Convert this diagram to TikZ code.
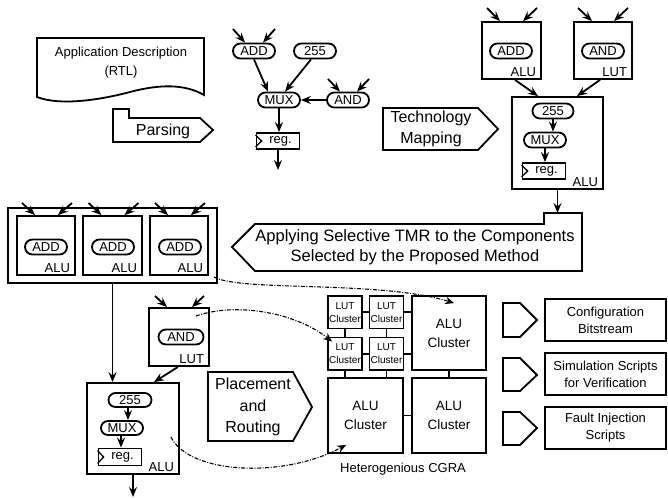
\documentclass[tikz,border=0pt]{standalone}
\usepackage{fontspec}
\setmainfont{Liberation Sans}
\usetikzlibrary{arrows.meta,shapes.misc}

\begin{document}
\begin{tikzpicture}[x=1pt,y=1pt,yscale=-1,xscale=1,
  line width=1.8pt,
  >={Stealth[length=10pt,width=8pt,inset=3.5pt]},
  pill/.style={draw,rounded rectangle,minimum width=42pt,minimum height=15pt,inner sep=0pt,font=\fontsize{13}{15}\selectfont},
  blk/.style={draw,rectangle,inner sep=0pt},
  regbox/.style={draw,rectangle,inner sep=0pt,minimum width=43pt,minimum height=16pt,font=\fontsize{13}{15}\selectfont},
  unitlbl/.style={anchor=base east,inner sep=0pt,font=\fontsize{13}{15}\selectfont},
  bigtxt/.style={align=center,inner sep=0pt,font=\fontsize{16}{21}\selectfont},
  midtxt/.style={align=center,inner sep=0pt,font=\fontsize{13}{17}\selectfont},
  lutcl/.style={blk,minimum width=34pt,minimum height=32.5pt,align=center,font=\fontsize{10}{13}\selectfont},
  alucl/.style={blk,minimum width=74pt,minimum height=74pt,align=center,font=\fontsize{13.5}{19}\selectfont},
  outbox/.style={blk,minimum width=121pt,minimum height=42pt,align=center,font=\fontsize{13}{17}\selectfont},
  clk/.style={line width=1.3pt},
  mapping/.style={-{Stealth[length=9pt,width=7.5pt,inset=3pt]},dash pattern={on 4pt off 1.5pt on 1pt off 1.5pt},line width=1.1pt}
]
\useasboundingbox (0,0) rectangle (668,498);
% y grows downwards here, so a positive yshift moves down as well

%Shape: Document
\draw (37,38) -- (204,38) -- (204,95) .. controls (185,84) and (160,84) .. (130,92) .. controls (100,100) and (60,106) .. (37,97) -- cycle;
% Text Node
\node[midtxt,font=\fontsize{13}{19}\selectfont] (appdesc) at (121,63) {Application Description\\(RTL)};

%Shape: Parsing step
\draw (113,109) -- (129,109) -- (129,118) -- (200,118) -- (213,130) -- (200,142) -- (113,142) -- cycle;
\node[bigtxt] (parsing) at (163,131) {Parsing};

%Parsed graph
\node[pill] (add0) at (254,51) {ADD};
\node[pill] (c2550) at (315,51) {255};
\node[pill] (mux0) at (279,100) {MUX};
\node[pill] (and0) at (348,100) {AND};
\node[regbox] (reg0) at (278,141) {\hspace*{5pt}reg.};
\draw[clk] ([yshift=3pt]reg0.north west) -- ([xshift=6pt]reg0.west) -- ([yshift=-3pt]reg0.south west);
\coordinate (add0a) at (233,29);
\coordinate (add0b) at (275,29);
\coordinate (and0a) at (328,79);
\coordinate (and0b) at (369,79);
\coordinate (out0) at (278,170);
\draw[->] (add0a) -- ([xshift=-9pt]add0.north);
\draw[->] (add0b) -- ([xshift=9pt]add0.north);
\draw[->] (and0a) -- ([xshift=-8pt]and0.north);
\draw[->] (and0b) -- ([xshift=9pt]and0.north);
\draw[->] (add0.south) -- ([xshift=-11pt]mux0.north);
\draw[->] ([xshift=-4pt]c2550.south) -- ([xshift=6pt]mux0.north);
\draw[->] (and0.west) -- (mux0.east);
\draw[->] (mux0.south) -- (mux0.south |- reg0.north);
\draw[->] (reg0.south) -- (out0);

%Shape: Technology mapping step
\draw (383,108) -- (478,108) -- (498,129) -- (478,150) -- (383,150) -- cycle;
\node[bigtxt] (techmap) at (431,129) {Technology\\Mapping};

%Mapped units
\node[blk,minimum width=59pt,minimum height=57pt] (alu1) at (511.5,50.5) {};
\node[pill] (add1) at (511,51) {ADD};
\node[unitlbl] (alu1lbl) at ([xshift=-5pt,yshift=-3pt]alu1.south east) {ALU};
\node[blk,minimum width=58pt,minimum height=57pt] (lut1) at (603,50.5) {};
\node[pill] (and1) at (603,51) {AND};
\node[unitlbl] (lut1lbl) at ([xshift=-5pt,yshift=-3pt]lut1.south east) {LUT};
\coordinate (alu1a) at (487,8);
\coordinate (alu1b) at (537,8);
\coordinate (lut1a) at (578,8);
\coordinate (lut1b) at (628,8);
\draw[->] (alu1a) -- ([xshift=-11.5pt]alu1.north);
\draw[->] (alu1b) -- ([xshift=11.5pt]alu1.north);
\draw[->] (lut1a) -- ([xshift=-11pt]lut1.north);
\draw[->] (lut1b) -- ([xshift=11pt]lut1.north);
\node[blk,minimum width=91pt,minimum height=92pt] (alu2) at (557.5,143) {};
\draw[->] ([xshift=3.5pt]alu1.south) -- ([xshift=-19.5pt]alu2.north);
\draw[->] ([xshift=-3pt]lut1.south) -- ([xshift=19.5pt]alu2.north);
\node[pill,minimum width=41pt] (c2551) at (553,111) {255};
\node[pill] (mux1) at (545,140) {MUX};
\node[regbox] (reg1) at (544,171) {\hspace*{5pt}reg.};
\draw[clk] ([yshift=3pt]reg1.north west) -- ([xshift=6pt]reg1.west) -- ([yshift=-3pt]reg1.south west);
\node[unitlbl] (alu2lbl) at ([xshift=-5pt,yshift=-3pt]alu2.south east) {ALU};
\draw[->] (c2551.south) -- (c2551.south |- mux1.north);
\draw[->] (mux1.south) -- (mux1.south |- reg1.north);
\coordinate (tmrin) at (558,213);
\draw[->] (alu2.south) -- (alu2.south |- tmrin);

%Shape: Selective TMR step
\draw (232,247) -- (255,224) -- (544,224) -- (544,213) -- (582,213) -- (582,271) -- (255,271) -- cycle;
\node[bigtxt,font=\fontsize{16.5}{20}\selectfont] (tmr) at (415,247) {Applying Selective TMR to the Components\\Selected by the Proposed Method};

%Triplicated adder
\node[blk,minimum width=209pt,minimum height=75pt] (tmrgrp) at (112.5,245.5) {};
\node[blk,minimum width=58pt,minimum height=59pt] (alua) at (46,245.5) {};
\node[pill] (adda) at (46,247) {ADD};
\node[unitlbl] (alualbl) at ([xshift=-5pt,yshift=-3pt]alua.south east) {ALU};
\node[blk,minimum width=59pt,minimum height=59pt] (alub) at (112.5,245.5) {};
\node[pill] (addb) at (113,247) {ADD};
\node[unitlbl] (alublbl) at ([xshift=-5pt,yshift=-3pt]alub.south east) {ALU};
\node[blk,minimum width=58pt,minimum height=59pt] (aluc) at (179,245.5) {};
\node[pill] (addc) at (180,247) {ADD};
\node[unitlbl] (aluclbl) at ([xshift=-5pt,yshift=-3pt]aluc.south east) {ALU};
\coordinate (aluaa) at (22,203);
\coordinate (aluab) at (72,203);
\coordinate (aluba) at (88.5,203);
\coordinate (alubb) at (138.5,203);
\coordinate (aluca) at (155,203);
\coordinate (alucb) at (205,203);
\draw[->] (aluaa) -- ([xshift=-11pt]alua.north);
\draw[->] (aluab) -- ([xshift=12pt]alua.north);
\draw[->] (aluba) -- ([xshift=-11pt]alub.north);
\draw[->] (alubb) -- ([xshift=12pt]alub.north);
\draw[->] (aluca) -- ([xshift=-11pt]aluc.north);
\draw[->] (alucb) -- ([xshift=12pt]aluc.north);

%Remaining units
\node[blk,minimum width=60pt,minimum height=58pt] (lut2) at (179,337) {};
\node[pill,minimum width=45pt] (and2) at (181,337) {AND};
\node[unitlbl] (lut2lbl) at ([xshift=-5pt,yshift=-3pt]lut2.south east) {LUT};
\coordinate (lut2a) at (155,296);
\coordinate (lut2b) at (204,296);
\draw[->] (lut2a) -- ([xshift=-12pt]lut2.north);
\draw[->] (lut2b) -- ([xshift=13pt]lut2.north);
\node[blk,minimum width=92pt,minimum height=91pt] (alu3) at (133,428.5) {};
\node[pill,minimum width=43pt,minimum height=14pt] (c2552) at (130,400) {255};
\node[pill,minimum height=14pt] (mux2) at (122,428) {MUX};
\node[regbox,minimum height=17pt] (reg2) at (120,457) {\hspace*{5pt}reg.};
\draw[clk] ([yshift=3pt]reg2.north west) -- ([xshift=6pt]reg2.west) -- ([yshift=-3pt]reg2.south west);
\node[unitlbl] (alu3lbl) at ([xshift=-5pt,yshift=-3pt]alu3.south east) {ALU};
\draw[->] ([xshift=-2pt]c2552.south) -- ([xshift=6pt]mux2.north);
\draw[->] ([xshift=-1pt]mux2.south) -- ([xshift=1pt]reg2.north);
\coordinate (out3) at (133,497);
\draw[->] (alu3.south) -- (out3);
\draw[->] (tmrgrp.south) -- (tmrgrp.south |- alu3.north);
\draw[->] ([xshift=-1pt]lut2.south) -- ([xshift=21pt]alu3.north);

%Shape: Placement and routing step
\draw (208,372) -- (293,372) -- (312,407) -- (293,441) -- (208,441) -- cycle;
\node[bigtxt,font=\fontsize{16}{21.5}\selectfont] (placeroute) at (253,407) {Placement\\and\\Routing};

%CGRA
\node[lutcl] (lc1) at (345,312.25) {LUT\\Cluster};
\node[lutcl] (lc2) at (386.5,312.25) {LUT\\Cluster};
\node[lutcl] (lc3) at (345,353.75) {LUT\\Cluster};
\node[lutcl] (lc4) at (386.5,353.75) {LUT\\Cluster};
\node[alucl] (clTR) at (449,333) {ALU\\Cluster};
\node[alucl,minimum width=75pt,minimum height=75pt] (clBL) at (365.5,415.5) {ALU\\Cluster};
\node[alucl,minimum height=75pt] (clBR) at (449,415.5) {ALU\\Cluster};
\draw (lc1.east) -- (lc2.west);
\draw (lc2.east) -- (lc2.east -| clTR.west);
\draw (lc3.east) -- (lc4.west);
\draw (lc4.east) -- (lc4.east -| clTR.west);
\draw (lc1.south) -- (lc3.north);
\draw (lc2.south) -- (lc4.north);
\draw (lc3.south) -- (lc3.south |- clBL.north);
\draw (lc4.south) -- (lc4.south |- clBL.north);
\draw (clTR.south) -- (clBR.north);
\draw (clBL.east) -- (clBL.east -| clBR.west);
\node[midtxt] (cgra) at (403,469) {Heterogenious CGRA};

%Mapping curves
\draw[mapping] ([xshift=-4pt,yshift=-7pt]tmrgrp.south east) .. controls (240,292) and (380,280) .. ([xshift=43pt,yshift=8pt]clTR.north west);
\draw[mapping] ([xshift=-14pt,yshift=9pt]lut2.north east) .. controls (235,302) and (295,312) .. ([xshift=5pt,yshift=5pt]lc3.north west);
\draw[mapping] ([xshift=-9pt,yshift=8.5pt]alu3.east) .. controls (190,475) and (285,478) .. ([xshift=19pt,yshift=-9pt]clBL.south west);

%Outputs
\draw (503,303) -- (520,303) -- (537,320) -- (520,337) -- (503,337) -- cycle;
\draw (503,358) -- (520,358) -- (537,375) -- (520,391) -- (503,391) -- cycle;
\draw (503,412) -- (520,412) -- (537,428) -- (520,445) -- (503,445) -- cycle;
\node[outbox] (bitstream) at (605.5,320) {Configuration\\Bitstream};
\node[outbox] (simscripts) at (605.5,374) {Simulation Scripts\\for Verification};
\node[outbox] (faultscripts) at (605.5,428) {Fault Injection\\Scripts};

\end{tikzpicture}
\end{document}
